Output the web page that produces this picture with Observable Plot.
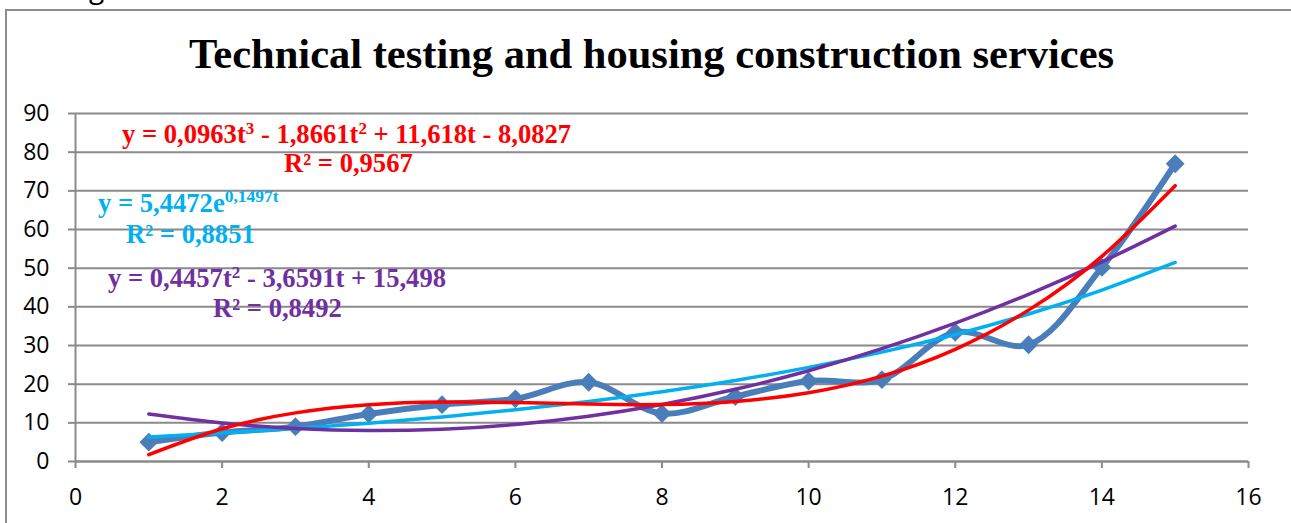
<!DOCTYPE html>
<html>
<head>
<meta charset="utf-8">
<script src="https://cdn.jsdelivr.net/npm/d3@7"></script>
<script src="https://cdn.jsdelivr.net/npm/@observablehq/plot@0.6"></script>
<style>
  html, body { margin: 0; padding: 0; background: #fff; }
  body { width: 1291px; height: 523px; overflow: hidden; position: relative; }
  #frame { position: absolute; left: 5px; top: 9px; width: 1400px; height: 600px; border: 2px solid #8c8c8c; box-sizing: border-box; }
  #title { position: absolute; left: 0; width: 1303px; top: 33px; text-align: center; font: bold 42.5px/42.5px "Liberation Serif", serif; color: #000; white-space: nowrap; }
  #chart { position: absolute; left: 0; top: 100px; }
  .lbl { position: absolute; font: bold 26.6px/24px "Liberation Serif", serif; white-space: nowrap; }
  .red { color: #ff0000; }
  .cyan { color: #00b0f0; }
  .purple { color: #7030a0; }
  .sup { font-size: 17px; line-height: 0; vertical-align: 9px; }
  .supe { font-size: 17.5px; line-height: 0; vertical-align: 10px; }
  #frag { position: absolute; left: 89px; top: -27px; font: 28px/28px "Open Sans", sans-serif; color: #000; }
</style>
</head>
<body>
<div id="frag">g</div>
<div id="frame"></div>
<div id="title">Technical testing and housing construction services</div>
<div id="chart"></div>
<div class="lbl red" style="left:122px; top:122px;">y = 0,0963t<span class="sup">3</span> - 1,8661t<span class="sup">2</span> + 11,618t - 8,0827</div>
<div class="lbl red" style="left:284px; top:151px;">R² = 0,9567</div>
<div class="lbl cyan" style="left:98px; top:191px;">y = 5,4472e<span class="supe">0,1497t</span></div>
<div class="lbl cyan" style="left:126px; top:222px;">R² = 0,8851</div>
<div class="lbl purple" style="left:108px; top:266px;">y = 0,4457t<span class="sup">2</span> - 3,6591t + 15,498</div>
<div class="lbl purple" style="left:213px; top:296px;">R² = 0,8492</div>
<script>
// Period index
const t = [1, 2, 3, 4, 5, 6, 7, 8, 9, 10, 11, 12, 13, 14, 15];
// Observed values
const observed = [5.0, 7.5, 9.0, 12.3, 14.7, 16.2, 20.5, 12.4, 16.8, 20.8, 21.2, 33.4, 30.2, 50.2, 77.0];
// Trendline values read at each period
const cubicTrend = [1.77, 8.46, 12.58, 14.69, 15.39, 15.25, 14.84, 14.74, 15.53, 17.79, 22.09, 29.02, 39.15, 53.06, 71.33];
const expTrend = [6.33, 7.35, 8.54, 9.92, 11.52, 13.38, 15.54, 18.05, 20.96, 24.35, 28.28, 32.85, 38.15, 44.31, 51.47];
const quadTrend = [12.29, 9.96, 8.53, 7.99, 8.35, 9.59, 11.72, 14.75, 18.67, 23.48, 29.18, 35.77, 43.25, 51.63, 60.89];
// Axis ticks
const xTicks = [0, 2, 4, 6, 8, 10, 12, 14, 16];
const yTicks = [0, 10, 20, 30, 40, 50, 60, 70, 80, 90];

const rows = t.map((ti, i) => ({t: ti, obs: observed[i], cubic: cubicTrend[i], exp: expTrend[i], quad: quadTrend[i]}));
const grey = "#8a8a8a";

const chart = Plot.plot({
  width: 1291,
  height: 416,
  marginLeft: 75,
  marginRight: 43,
  marginTop: 13,
  marginBottom: 55,
  x: {domain: [0, 16]},
  y: {domain: [0, 90]},
  style: {fontFamily: "'Open Sans', sans-serif", fontSize: "23px", color: "#000", background: "transparent", overflow: "visible"},
  marks: [
    Plot.gridY(yTicks, {stroke: grey, strokeOpacity: 1, strokeWidth: 2}),
    Plot.axisY(yTicks, {tickSize: 7, tickPadding: 19, stroke: grey, strokeWidth: 2, fill: "#000", fontSize: 23, label: null, tickFormat: d => d}),
    Plot.axisX(xTicks, {tickSize: 7, tickPadding: 20, stroke: grey, strokeWidth: 2, fill: "#000", fontSize: 23, label: null, tickFormat: d => d}),
    Plot.ruleX([0], {y1: 0, y2: 90, stroke: grey, strokeWidth: 2}),
    Plot.ruleY([0], {x1: 0, x2: 16, stroke: grey, strokeWidth: 2}),
    Plot.line(rows, {x: "t", y: "obs", curve: "catmull-rom", stroke: "#4a7ebb", strokeWidth: 6, strokeLinejoin: "round"}),
    Plot.dot(rows, {x: "t", y: "obs", symbol: "square", rotate: 45, r: 7.5, fill: "#4a7ebb", stroke: "none"}),
    Plot.line(rows, {x: "t", y: "exp", curve: "natural", stroke: "#00b0f0", strokeWidth: 3.5}),
    Plot.line(rows, {x: "t", y: "quad", curve: "natural", stroke: "#7030a0", strokeWidth: 3.5}),
    Plot.line(rows, {x: "t", y: "cubic", curve: "natural", stroke: "#ff0000", strokeWidth: 3.5})
  ]
});
document.getElementById("chart").appendChild(chart);
</script>
</body>
</html>
